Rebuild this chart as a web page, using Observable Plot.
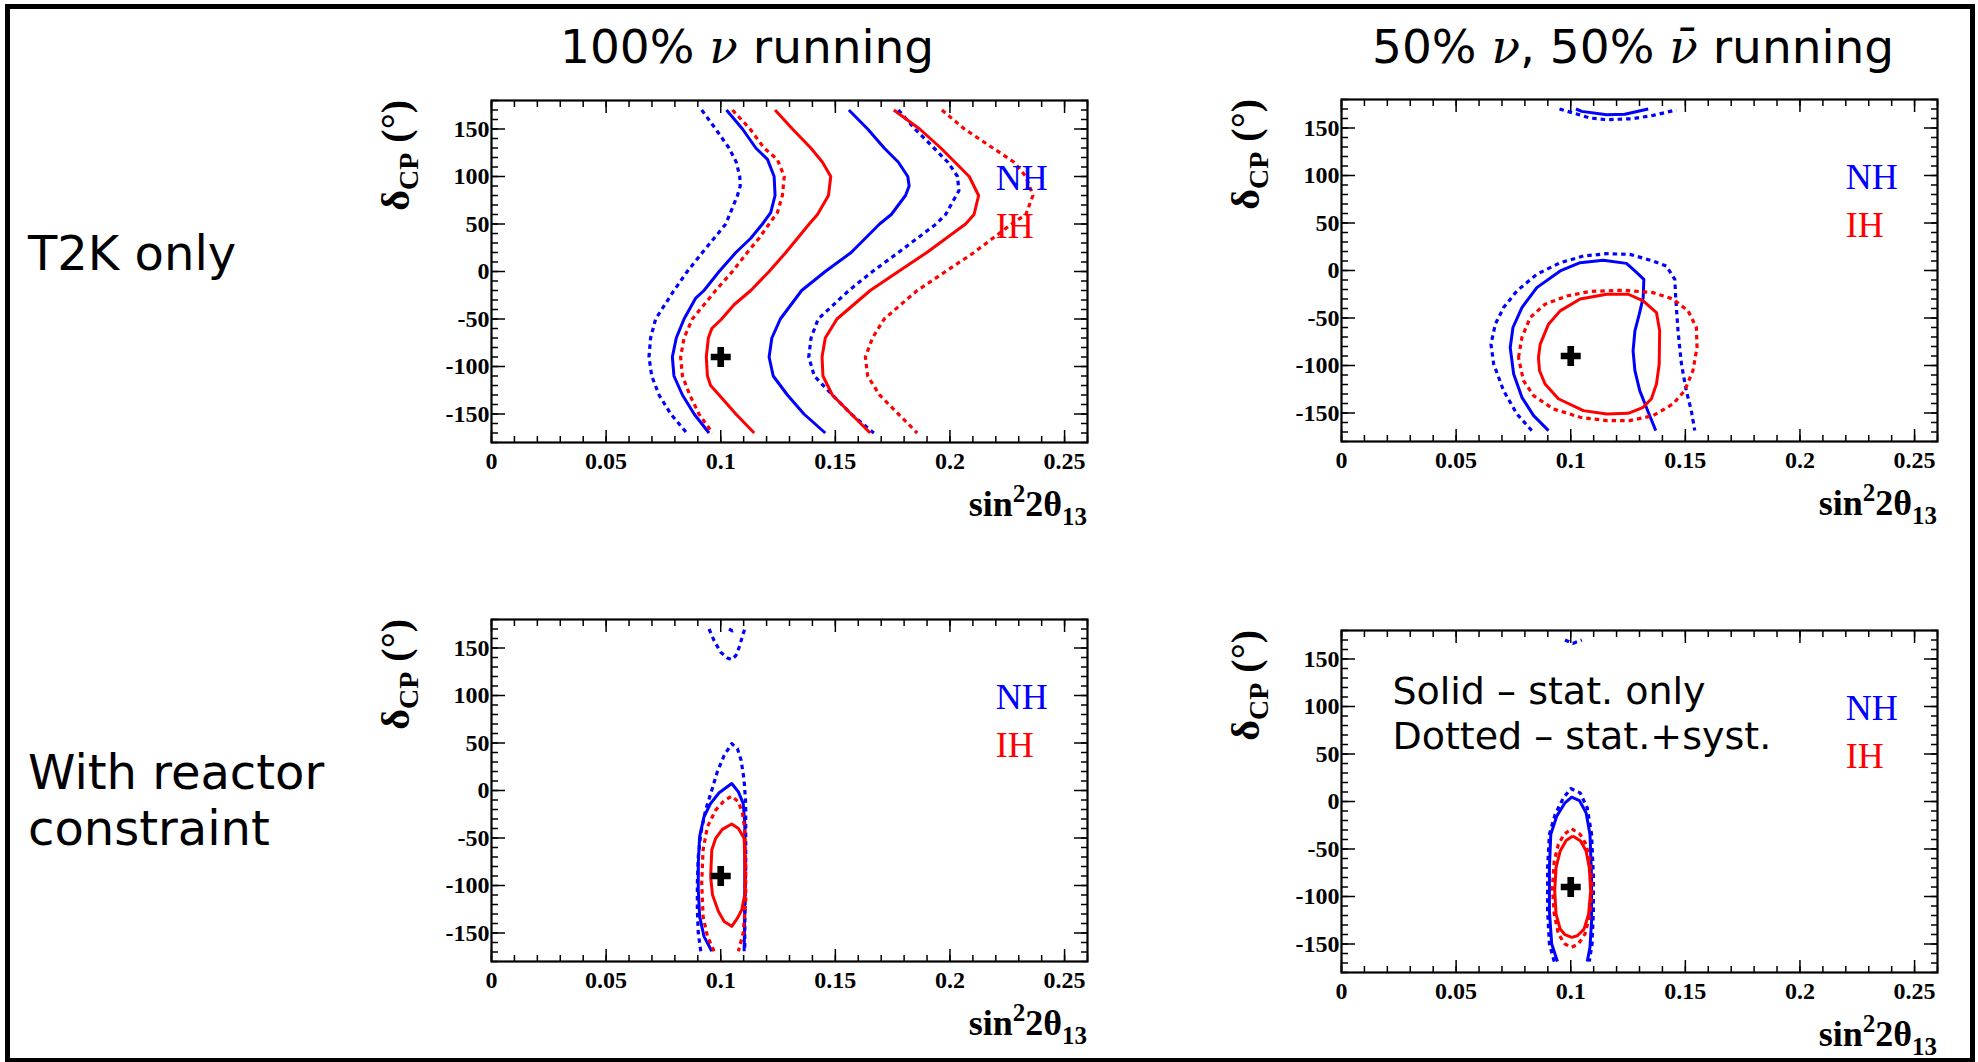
<!DOCTYPE html>
<html><head><meta charset="utf-8">
<script src="https://cdn.jsdelivr.net/npm/d3@7"></script>
<script src="https://cdn.jsdelivr.net/npm/@observablehq/plot@0.6"></script>
<style>
html,body{margin:0;padding:0;background:#fff;}
#root{position:relative;width:1978px;height:1062px;overflow:hidden;background:#fff;}
#border{position:absolute;left:5px;top:4px;width:1970px;height:1059px;border:5px solid #000;box-sizing:border-box;}
.t{position:absolute;font-family:"DejaVu Sans";color:#000;white-space:nowrap;}
.ttl{font-size:47px;line-height:1;}
.row{font-size:48px;line-height:56px;}
.nu{font-family:"DejaVu Serif";font-style:italic;}
.pl{position:absolute;}
</style></head><body><div id="root">
<div id="border"></div>
<div class="t ttl" style="left:560px;top:23px">100% <span class="nu">ν</span> running</div>
<div class="t ttl" style="left:1372px;top:23px">50% <span class="nu">ν</span>, 50% <span class="nu">ν̄</span> running</div>
<div class="t row" style="left:28px;top:225px">T2K only</div>
<div class="t row" style="left:28px;top:744px">With reactor<br>constraint</div>
</div>
<script>
// ---------- tick values / labels ----------
const xMajor = [0, 0.05, 0.1, 0.15, 0.2, 0.25];
const xTickLabels = ["0", "0.05", "0.1", "0.15", "0.2", "0.25"];
const xMinor = d3.range(0, 0.2605, 0.01);
const yMajor = [-150, -100, -50, 0, 50, 100, 150];
const yTickLabels = ["-150", "-100", "-50", "0", "50", "100", "150"];
const yMinor = d3.range(-180, 181, 10);
const bestFit = [[0.1, -90]];

// ---------- Panel 1: T2K only, 100% nu  ([sin^2 2theta13, deltaCP]) ----------
const p1NhSystL = [[0.0917,170],[0.0978,150],[0.1036,130],[0.1068,115],[0.1083,100],[0.1085,90],[0.1073,80],[0.1022,50],[0.0920,20],[0.0854,0],[0.0796,-20],[0.0716,-50],[0.0694,-70],[0.0687,-90],[0.0699,-110],[0.0731,-130],[0.0782,-150],[0.0852,-170]];
const p1NhStatL = [[0.1025,170],[0.1095,150],[0.1153,130],[0.1204,118],[0.1233,100],[0.1237,80],[0.1218,62],[0.1182,50],[0.1131,35],[0.1066,20],[0.0993,0],[0.0927,-20],[0.0891,-28],[0.0840,-50],[0.0806,-70],[0.0789,-90],[0.0796,-110],[0.0833,-130],[0.0884,-150],[0.0949,-170]];
const p1IhSystL = [[0.1051,170],[0.1128,150],[0.1189,130],[0.1247,118],[0.1277,100],[0.1269,80],[0.1247,62],[0.1211,50],[0.1167,35],[0.1116,20],[0.1051,0],[0.0978,-20],[0.0876,-50],[0.0840,-70],[0.0825,-90],[0.0833,-110],[0.0865,-130],[0.0905,-150],[0.0964,-170]];
const p1IhStatL = [[0.1237,170],[0.1313,150],[0.1393,130],[0.1444,115],[0.1480,100],[0.1470,80],[0.1422,60],[0.1386,50],[0.1284,20],[0.1211,0],[0.1131,-20],[0.1058,-35],[0.1004,-50],[0.0961,-60],[0.0946,-70],[0.0937,-90],[0.0942,-110],[0.0956,-120],[0.0993,-130],[0.1066,-150],[0.1146,-170]];
const p1NhStatR = [[0.1559,170],[0.1641,150],[0.1713,130],[0.1775,115],[0.1816,100],[0.1822,90],[0.1806,80],[0.1744,60],[0.1693,50],[0.1569,20],[0.1456,0],[0.1353,-20],[0.1260,-50],[0.1223,-70],[0.1211,-90],[0.1229,-110],[0.1291,-130],[0.1363,-150],[0.1456,-170]];
const p1NhSystR = [[0.1775,170],[0.1847,150],[0.1930,130],[0.1991,115],[0.2033,100],[0.2039,85],[0.1981,60],[0.1940,50],[0.1775,20],[0.1662,0],[0.1559,-20],[0.1425,-50],[0.1394,-70],[0.1384,-90],[0.1408,-110],[0.1487,-130],[0.1569,-150],[0.1668,-170]];
const p1IhStatR = [[0.1755,170],[0.1868,150],[0.1960,130],[0.2022,115],[0.2084,100],[0.2125,80],[0.2105,60],[0.2068,50],[0.1899,20],[0.1775,0],[0.1652,-20],[0.1507,-50],[0.1456,-70],[0.1442,-90],[0.1446,-110],[0.1487,-130],[0.1569,-150],[0.1652,-170]];
const p1IhSystR = [[0.1965,170],[0.2063,150],[0.2187,130],[0.2280,115],[0.2331,100],[0.2362,80],[0.2331,60],[0.2269,50],[0.2105,20],[0.1981,0],[0.1857,-20],[0.1713,-50],[0.1662,-70],[0.1631,-90],[0.1641,-110],[0.1693,-130],[0.1775,-150],[0.1857,-170]];

// ---------- Panel 2: T2K only, 50% nu / 50% anti-nu ----------
const p2NhStatTop = [[0.1023,170],[0.1048,167.5],[0.1157,164],[0.1236,164.5],[0.1338,170]];
const p2NhSystTop = [[0.0951,170],[0.1026,164.7],[0.1084,160.5],[0.1157,158.8],[0.1272,159.8],[0.1359,163.3],[0.1461,169]];
const p2NhStat = [[0.0903,-168.5],[0.0838,-152.8],[0.0787,-133.5],[0.0751,-109],[0.0736,-81],[0.0748,-60],[0.0787,-39],[0.0852,-18],[0.0954,-0.5],[0.1041,8.2],[0.1142,10.7],[0.1243,7.5],[0.1280,-0.5],[0.1319,-9.3],[0.1316,-28.5],[0.1299,-46],[0.1280,-63.5],[0.1272,-84.5],[0.1280,-105.4],[0.1301,-126.5],[0.1338,-149],[0.1371,-168.5]];
const p2NhSyst = [[0.0830,-168.5],[0.0765,-151],[0.0707,-126.5],[0.0664,-98.5],[0.0652,-77.5],[0.0671,-56.5],[0.0707,-39],[0.0765,-21.5],[0.0852,-4],[0.0954,8.2],[0.1055,15.2],[0.1157,17.7],[0.1258,17],[0.1359,10],[0.1417,4.7],[0.1454,-9.3],[0.1458,-28.5],[0.1468,-63.5],[0.1483,-98.5],[0.1504,-126.5],[0.1526,-147.5],[0.1541,-168.5]];
const p2IhStat = [[0.0859,-91.5],[0.0867,-77.5],[0.0903,-56.5],[0.0954,-42.5],[0.1041,-30],[0.1157,-25],[0.1251,-25],[0.1316,-32],[0.1374,-44.3],[0.1388,-63.5],[0.1386,-98.5],[0.1374,-119.5],[0.1352,-135],[0.1316,-144],[0.1251,-150.3],[0.1157,-151],[0.1055,-147.5],[0.0946,-135],[0.0888,-119.5],[0.0864,-105.5],[0.0859,-91.5]];
const p2IhSyst = [[0.0772,-91.5],[0.0787,-70.5],[0.0823,-49.5],[0.0888,-35.5],[0.0983,-26.8],[0.1084,-22],[0.1229,-20.8],[0.1359,-23.3],[0.1446,-30],[0.1512,-42.5],[0.1548,-60],[0.1551,-81],[0.1533,-105.5],[0.1497,-126.5],[0.1446,-140.5],[0.1359,-152.8],[0.1258,-158],[0.1157,-158],[0.1041,-154.5],[0.0925,-145.8],[0.0838,-131.8],[0.0794,-116],[0.0772,-91.5]];

// ---------- Panel 3: with reactor constraint, 100% nu ----------
const p3NhSystTop = [[0.0949,170],[0.0971,157.7],[0.1000,145.5],[0.1029,139.5],[0.1048,137.8],[0.1066,142],[0.1083,152.4],[0.1095,163],[0.1105,170]];
const p3NhSystCap = [[0.1036,170],[0.1051,168],[0.1068,170]];
const p3NhSyst = [[0.0913,-169.2],[0.0902,-150],[0.0898,-125.5],[0.0898,-97.6],[0.0902,-69.6],[0.0913,-45.1],[0.0934,-20.6],[0.0961,0.4],[0.0985,19.6],[0.1015,37],[0.1048,49.3],[0.1073,44],[0.1089,31.8],[0.1102,10.8],[0.1109,-13.6],[0.1109,-45.1],[0.1109,-80],[0.1106,-115],[0.1105,-150],[0.1105,-169.2]];
const p3NhStat = [[0.0961,-169.2],[0.0927,-153.5],[0.0908,-132.5],[0.0902,-104.5],[0.0902,-76.6],[0.0908,-48.6],[0.0927,-27.6],[0.0956,-13.6],[0.0993,-2.4],[0.1048,7.3],[0.1077,-1.4],[0.1098,-13.6],[0.1105,-34.6],[0.1105,-80],[0.1105,-125.5],[0.1102,-169.2]];
const p3IhSyst = [[0.0971,-169.2],[0.0942,-153.5],[0.0923,-132.5],[0.0917,-97.6],[0.0923,-62.6],[0.0942,-38.1],[0.0978,-20.6],[0.1015,-10.8],[0.1048,-6],[0.1077,-11.9],[0.1095,-24.1],[0.1105,-41.6],[0.1109,-80],[0.1109,-115],[0.1098,-150],[0.1077,-169.2]];
const p3IhStat = [[0.0956,-90.6],[0.0961,-62.6],[0.0978,-50.3],[0.1007,-40.9],[0.1048,-35.3],[0.1077,-39.9],[0.1102,-50.3],[0.1106,-76.6],[0.1106,-108],[0.1092,-125.5],[0.1073,-134.3],[0.1048,-143],[0.1015,-137.8],[0.0990,-127.3],[0.0964,-109.8],[0.0956,-90.6]];

// ---------- Panel 4: with reactor constraint, 50% nu / 50% anti-nu ----------
const p4NhSystTop = [[0.0975,170],[0.1009,166.4],[0.1048,170]];
const p4NhSyst = [[0.0928,-168.5],[0.0907,-150],[0.0899,-115],[0.0899,-69.6],[0.0907,-34.6],[0.0932,-13.6],[0.0968,3.8],[0.1000,13.6],[0.1041,9.1],[0.1072,-6.6],[0.1091,-34.6],[0.1099,-80],[0.1099,-115],[0.1093,-150],[0.1081,-168.5]];
const p4NhStat = [[0.0942,-168.5],[0.0917,-150],[0.0907,-115],[0.0907,-69.6],[0.0913,-34.6],[0.0939,-15.4],[0.0975,-1.4],[0.1004,4.5],[0.1038,1],[0.1067,-11.9],[0.1084,-34.6],[0.1091,-80],[0.1091,-125.5],[0.1084,-153.5],[0.1072,-168.5]];
const p4IhSyst = [[0.1004,-28.7],[0.1041,-34.6],[0.1067,-45.1],[0.1084,-62.6],[0.1093,-90.6],[0.1084,-118.5],[0.1062,-139.5],[0.1033,-150],[0.1004,-153.5],[0.0975,-150],[0.0946,-139.5],[0.0928,-118.5],[0.0920,-90.6],[0.0928,-62.6],[0.0946,-45.1],[0.0971,-34.6],[0.1004,-28.7]];
const p4IhStat = [[0.1009,-36.4],[0.1043,-41.6],[0.1067,-52.1],[0.1081,-69.6],[0.1087,-94],[0.1078,-118.5],[0.1058,-134.3],[0.1029,-141.3],[0.1004,-143],[0.0975,-140.2],[0.0954,-134.3],[0.0936,-118.5],[0.0930,-94],[0.0936,-69.6],[0.0954,-52.1],[0.0980,-41],[0.1009,-36.4]];

const hierColor = {NH: "#0000ff", IH: "#ff0000"};
const annotationLines = ["Solid – stat. only", "Dotted – stat.+syst."];

const panels = [
  {left: 360, top: 90, curves: [
    [p1NhSystL,"NH",true],[p1NhStatL,"NH",false],[p1IhSystL,"IH",true],[p1IhStatL,"IH",false],
    [p1NhStatR,"NH",false],[p1NhSystR,"NH",true],[p1IhStatR,"IH",false],[p1IhSystR,"IH",true]]},
  {left: 1210, top: 89, curves: [
    [p2NhStatTop,"NH",false],[p2NhSystTop,"NH",true],[p2NhStat,"NH",false],[p2NhSyst,"NH",true],
    [p2IhStat,"IH",false],[p2IhSyst,"IH",true]]},
  {left: 360, top: 609, curves: [
    [p3NhSystTop,"NH",true],[p3NhSystCap,"NH",true],[p3NhSyst,"NH",true],[p3NhStat,"NH",false],
    [p3IhSyst,"IH",true],[p3IhStat,"IH",false]]},
  {left: 1210, top: 620, annotate: true, curves: [
    [p4NhSystTop,"NH",true],[p4NhSyst,"NH",true],[p4NhStat,"NH",false],
    [p4IhSyst,"IH",true],[p4IhStat,"IH",false]]}
];

const ML = 131, MR = 20, MT = 10, MB = 100, FW = 596, FH = 342;
const serif = "Liberation Serif";
const xLab = new Map(xMajor.map((v, i) => [v, xTickLabels[i]]));
const yLab = new Map(yMajor.map((v, i) => [v, yTickLabels[i]]));
const blank = () => "";
const tickStyle = {stroke: "#000", strokeWidth: 1.5, label: null, tickFormat: blank};

function makePanel(p) {
  const marks = [
    // inward ticks on four sides
    Plot.axisX(xMinor, {...tickStyle, anchor: "bottom", tickSize: 6, dy: -6}),
    Plot.axisX(xMajor, {...tickStyle, anchor: "bottom", tickSize: 12, dy: -12}),
    Plot.axisX(xMinor, {...tickStyle, anchor: "top", tickSize: 6, dy: 6}),
    Plot.axisX(xMajor, {...tickStyle, anchor: "top", tickSize: 12, dy: 12}),
    Plot.axisY(yMinor, {...tickStyle, anchor: "left", tickSize: 7, dx: 7}),
    Plot.axisY(yMajor, {...tickStyle, anchor: "left", tickSize: 14, dx: 14}),
    Plot.axisY(yMinor, {...tickStyle, anchor: "right", tickSize: 7, dx: -7}),
    Plot.axisY(yMajor, {...tickStyle, anchor: "right", tickSize: 14, dx: -14}),
    // tick labels
    Plot.axisX(xMajor, {anchor: "bottom", tickSize: 0, tickPadding: 9, label: null,
      tickFormat: d => xLab.get(d), fontSize: 24, fontWeight: "bold", fontFamily: serif, fill: "#000"}),
    Plot.axisY(yMajor, {anchor: "left", tickSize: 0, tickPadding: 2, label: null,
      tickFormat: d => yLab.get(d), fontSize: 24, fontWeight: "bold", fontFamily: serif, fill: "#000"}),
  ];
  for (const [data, h, dotted] of p.curves) {
    marks.push(Plot.line(data, {x: d => d[0], y: d => d[1], stroke: hierColor[h], strokeWidth: dotted ? 3.2 : 3,
      strokeDasharray: dotted ? "4.5,4" : null, strokeLinecap: "butt", strokeLinejoin: "round"}));
  }
  marks.push(Plot.dot(bestFit, {x: d => d[0], y: d => d[1], symbol: "cross", r: 8.4, fill: "#000", stroke: "none"}));
  marks.push(Plot.text(["NH"], {x: 0.22, y: 85.7, text: d => d, textAnchor: "start", lineAnchor: "bottom",
    fill: hierColor.NH, fontSize: 36, fontWeight: "normal", fontFamily: serif}));
  marks.push(Plot.text(["IH"], {x: 0.22, y: 35.1, text: d => d, textAnchor: "start", lineAnchor: "bottom",
    fill: hierColor.IH, fontSize: 36, fontWeight: "normal", fontFamily: serif}));
  if (p.annotate) {
    marks.push(Plot.text([annotationLines[0]], {x: 0.0222, y: 102.8, text: d => d, textAnchor: "start", lineAnchor: "bottom",
      fill: "#000", fontSize: 38, fontWeight: "normal", fontFamily: "DejaVu Sans"}));
    marks.push(Plot.text([annotationLines[1]], {x: 0.0222, y: 55.6, text: d => d, textAnchor: "start", lineAnchor: "bottom",
      fill: "#000", fontSize: 38, fontWeight: "normal", fontFamily: "DejaVu Sans"}));
  }
  marks.push(Plot.frame({stroke: "#000", strokeWidth: 2.2}));

  const svg = Plot.plot({
    width: ML + FW + MR, height: MT + FH + MB,
    marginLeft: ML, marginRight: MR, marginTop: MT, marginBottom: MB,
    x: {domain: [0, 0.26], axis: null},
    y: {domain: [-180, 180], axis: null},
    style: {background: "transparent", color: "#000", fontFamily: serif, fontWeight: "bold", fontSize: "24px", overflow: "visible"},
    marks
  });
  const s = d3.select(svg);
  // x-axis title: sin^2 2theta_13
  const xt = s.append("text").attr("x", ML + FW).attr("y", MT + FH + 74).attr("text-anchor", "end")
    .attr("font-family", serif).attr("font-weight", "bold").attr("font-size", 36).attr("fill", "#000");
  xt.append("tspan").text("sin");
  xt.append("tspan").attr("font-size", 25).attr("dy", -14).text("2");
  xt.append("tspan").attr("dy", 14).text("2θ");
  xt.append("tspan").attr("font-size", 25).attr("dy", 9).text("13");
  // y-axis title: delta_CP (deg)
  const yt = s.append("text").attr("transform", `translate(49,${MT}) rotate(-90)`).attr("text-anchor", "end")
    .attr("font-family", serif).attr("font-weight", "bold").attr("font-size", 40).attr("fill", "#000");
  yt.append("tspan").text("δ");
  yt.append("tspan").attr("font-size", 28).attr("dy", 9).text("CP");
  yt.append("tspan").attr("dy", -9).text(" (°)");

  svg.classList.add("pl");
  svg.style.left = p.left + "px";
  svg.style.top = p.top + "px";
  svg.style.position = "absolute";
  document.getElementById("root").appendChild(svg);
}
panels.forEach(makePanel);
</script>
</body></html>
